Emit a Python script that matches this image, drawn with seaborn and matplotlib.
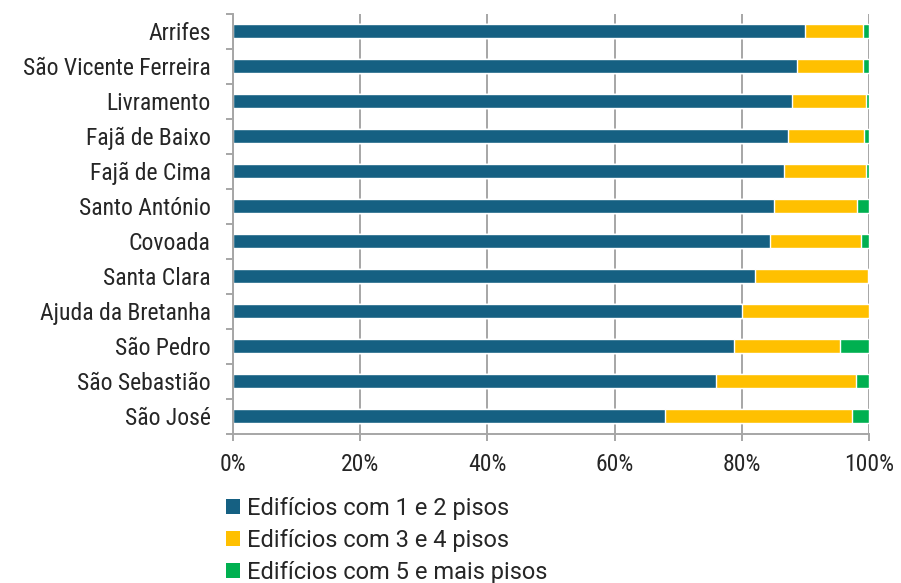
import matplotlib
matplotlib.use("Agg")
import matplotlib.pyplot as plt
from matplotlib.patches import Patch
from matplotlib.ticker import FixedLocator, PercentFormatter
import pandas as pd
import seaborn as sns

# --- data (shares of buildings by number of floors, %) ---
freguesias = ['Arrifes', 'São Vicente Ferreira', 'Livramento', 'Fajã de Baixo',
              'Fajã de Cima', 'Santo António', 'Covoada', 'Santa Clara',
              'Ajuda da Bretanha', 'São Pedro', 'São Sebastião', 'São José']
pisos_1_2 = [90.0, 88.6, 87.9, 87.3, 86.6, 85.1, 84.4, 82.1, 80.0, 78.7, 75.9, 68.0]
pisos_3_4 = [9.1, 10.4, 11.7, 11.9, 12.9, 13.0, 14.4, 17.7, 20.0, 16.7, 22.1, 29.4]
pisos_5_mais = [0.9, 1.0, 0.4, 0.8, 0.5, 1.9, 1.2, 0.2, 0.0, 4.6, 2.0, 2.6]
series_labels = ['Edifícios com 1 e 2 pisos', 'Edifícios com 3 e 4 pisos',
                 'Edifícios com 5 e mais pisos']
colors = ['#156082', '#FFC000', '#00B050']

df = pd.DataFrame({'freguesia': freguesias, 's1': pisos_1_2,
                   's2': pisos_3_4, 's3': pisos_5_mais})
df['c1'] = df['s1']
df['c2'] = df['s1'] + df['s2']
df['c3'] = df['c2'] + df['s3']

sns.set_theme(style='white')
narrow = ['Roboto Condensed', 'Roboto', 'DejaVu Sans']
plt.rcParams['font.family'] = narrow
plt.rcParams['text.color'] = '#262626'

fig = plt.figure(figsize=(9.01, 5.83), dpi=100)
ax = fig.add_axes([0.2586, 0.2564, 0.7059, 0.7204])

# stacked bars drawn back to front using cumulative totals
for col, color in zip(['c3', 'c2', 'c1'], colors[::-1]):
    sns.barplot(data=df, x=col, y='freguesia', color=color, width=0.4,
                saturation=1, ax=ax, orient='h')

ax.set_xlim(0, 100)
ax.set_ylim(11.5, -0.5)
ax.xaxis.set_major_locator(FixedLocator([0, 20, 40, 60, 80, 100]))
ax.xaxis.set_major_formatter(PercentFormatter(decimals=0))
ax.set_xlabel('')
ax.set_ylabel('')
ax.set_axisbelow(True)
ax.grid(axis='x', color='#A6A6A6', linewidth=1.4)

for side in ['top', 'right']:
    ax.spines[side].set_visible(False)
for side in ['left', 'bottom']:
    ax.spines[side].set_color('#A6A6A6')
    ax.spines[side].set_linewidth(1.4)

ax.tick_params(axis='x', which='major', length=5, width=1.4, color='#A6A6A6',
               labelsize=17, labelcolor='#262626', pad=9, bottom=True)
ax.tick_params(axis='y', which='major', length=0, labelsize=17,
               labelcolor='#262626', pad=16)
ax.yaxis.set_minor_locator(FixedLocator([i - 0.5 for i in range(len(freguesias) + 1)]))
ax.tick_params(axis='y', which='minor', length=5, width=1.4, color='#A6A6A6', left=True)

handles = [Patch(facecolor=c, edgecolor='none', label=l)
           for c, l in zip(colors, series_labels)]
fig.legend(handles=handles, loc='upper left', bbox_to_anchor=(0.251, 0.147),
           frameon=False, prop={'family': ['Roboto', 'DejaVu Sans'], 'size': 17},
           handlelength=0.6, handleheight=0.6, handletextpad=0.3,
           labelspacing=0.38, borderaxespad=0, borderpad=0)

fig.savefig('out.png', dpi=100)
